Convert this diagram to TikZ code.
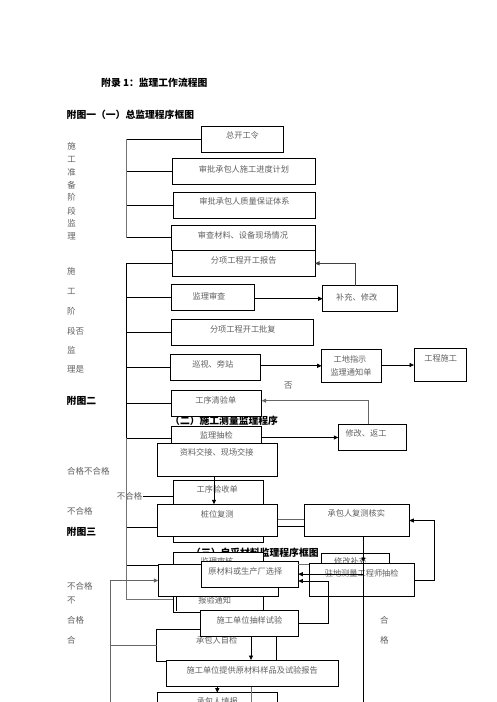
\documentclass[tikz,border=0pt]{standalone}
\usepackage{fontspec}
\setmainfont{Noto Sans CJK SC}
\usetikzlibrary{arrows.meta}
\newcommand{\bxnode}[5]{\node[bx,minimum width={(#4-#2)*1pt},minimum height={(#5-#3)*1pt}] (#1) at ({(#2+#4)/2},{(#3+#5)/2}) {};}
\tikzset{
 bx/.style={draw=black, line width=0.9pt, fill=white, inner sep=0pt, outer sep=0pt},
 bt/.style={inner sep=0pt, text=black!62, font=\fontsize{8.2}{9}\selectfont},
 lbl/.style={inner sep=0pt, anchor=west, text=black!62, font=\fontsize{8.5}{9}\selectfont},
 vlb/.style={inner sep=0pt, text=black!62, font=\fontsize{8.5}{9}\selectfont},
 hd/.style={inner sep=0pt, anchor=west, text=black, font=\fontsize{9.8}{11}\selectfont\bfseries},
 ln/.style={line width=0.8pt, black},
 gl/.style={line width=1.3pt, black!55},
 arr/.style={line width=0.8pt, black, -{Triangle[length=4.5pt,width=4pt]}},
}
\begin{document}
\begin{tikzpicture}[x=1pt,y=-1pt]
\useasboundingbox (0,0) rectangle (496,702);
\fill[white] (0,0) rectangle (496,702);
% headings
\node[hd] (h0) at (101,83) {附录 1：监理工作流程图};
\node[hd] (h1) at (66.5,115) {附图一（一）总监理程序框图};
\node[hd] (h2) at (66.5,401) {附图二};
\node[hd] (h3) at (170,420.7) {（二）施工测量监理程序};
\node[hd] (h4) at (66.5,531.7) {附图三};
\node[hd] (h5) at (191,553) {（三）自采材料监理程序框图};
% left labels
\node[vlb] (v1) at (71.7,146) {施};
\node[vlb] (v2) at (71.7,159.3) {工};
\node[vlb] (v3) at (71.7,172) {准};
\node[vlb] (v4) at (71.7,185) {备};
\node[vlb] (v5) at (71.7,197.7) {阶};
\node[vlb] (v6) at (71.7,211) {段};
\node[vlb] (v7) at (71.7,223.3) {监};
\node[vlb] (v8) at (71.7,236.7) {理};
\node[lbl] (w1) at (67,271.7) {施};
\node[lbl] (w2) at (67,291.7) {工};
\node[lbl] (w3) at (67,311) {阶};
\node[lbl] (w4) at (67,331) {段否};
\node[lbl] (w5) at (67,350) {监};
\node[lbl] (w6) at (67,369.3) {理是};
\node[lbl] (l1) at (67,471) {合格不合格};
\node[lbl] (bhg2) at (116.7,496.5) {不合格};
\node[lbl] (l3) at (67,511.7) {不合格};
\node[lbl] (l4) at (67,586) {不合格};
\node[lbl] (l5) at (67,601) {不};
\node[lbl] (l6) at (67,620) {合格};
\node[lbl] (l7) at (67,640) {合};
\node[vlb] (fou) at (288.3,385.7) {否};
\node[vlb] (he1) at (384.3,620) {合};
\node[vlb] (ge1) at (384.3,640) {格};
% boxes
\bxnode{zkgl}{201.7}{126}{283.3}{152.3}
\node[bt] (t1) at (242.5,135) {总开工令};
\bxnode{spjd}{172.3}{158.3}{315.7}{184.3}
\node[bt] (t2) at (244,169) {审批承包人施工进度计划};
\bxnode{spzl}{173.3}{192}{315.7}{218.3}
\node[bt] (t3) at (244.5,201.7) {审批承包人质量保证体系};
\bxnode{scl}{171}{225}{315}{250.7}
\node[bt] (t4) at (243,235) {审查材料、设备现场情况};
\bxnode{fxbg}{172.3}{250.7}{315}{276}
\node[bt] (t5) at (243.7,260.7) {分项工程开工报告};
\bxnode{jlsc}{171}{284}{254.3}{310}
\node[bt] (t6) at (209,296) {监理审查};
\bxnode{bcxg}{322.7}{285.7}{397.3}{311.7}
\node[bt] (t7) at (356.7,297.7) {补充、修改};
\bxnode{fxpf}{171}{319.3}{313.3}{345}
\node[bt] (t8) at (242.8,329) {分项工程开工批复};
\bxnode{xsbz}{170.3}{354.3}{260.3}{380.3}
\node[bt] (t9) at (212.8,364.3) {巡视、旁站};
\bxnode{gdzs}{321.7}{349.3}{381.7}{382.3}
\node[bt] (t10) at (350,359.3) {工地指示};
\node[bt] (t11) at (351,372) {监理通知单};
\bxnode{gcsg}{414}{348.3}{466.7}{381.7}
\node[bt] (t12) at (440.7,358.3) {工程施工};
\bxnode{gxqy}{171}{390.7}{261.7}{416}
\node[bt] (t13) at (215.8,400) {工序清验单};
\bxnode{jlcj}{171}{426.7}{261.7}{455}
\node[bt] (t14) at (216.3,435) {监理抽检};
\bxnode{xgfg}{338.3}{424.3}{406.7}{450.7}
\node[bt] (t15) at (366,433.3) {修改、返工};
\bxnode{zljj}{157.3}{443.3}{277.7}{476.7}
\node[bt] (t16) at (216.7,452.3) {资料交接、现场交接};
\bxnode{gxys}{173.3}{480}{263.3}{542.7}
\node[bt] (t17) at (217.2,489.3) {工序验收单};
\bxnode{zwfc}{157.3}{504.3}{277.7}{536.7}
\node[bt] (t18) at (217.2,514) {桩位复测};
\bxnode{cbfc}{304.3}{504.3}{409.3}{536.7}
\node[bt] (t19) at (356.3,513.3) {承包人复测核实};
\bxnode{jlsh}{173.3}{552.7}{263.3}{612.7}
\node[bt] (t20) at (217,561) {监理审核};
\node[bt] (t21) at (214.7,600) {报验通知};
\bxnode{boxB}{158.3}{564.3}{278.3}{596.7}
\bxnode{yclxz}{201.7}{561}{298.3}{587.3}
\node[bt] (t22) at (245.3,571) {原材料或生产厂选择};
\bxnode{xgbc}{321.7}{553.3}{389.3}{575}
\node[bt] (t23) at (350.5,561) {修改补充};
\bxnode{zdcl}{309.3}{563.3}{414.3}{596.7}
\node[bt] (t24) at (361.7,573.3) {驻地测量工程师抽检};
\bxnode{cbzj}{156.7}{629.3}{276.7}{661}
\node[bt] (t25) at (216.7,640) {承包人自检};
\bxnode{sgcy}{200.7}{610.7}{298.3}{636.7}
\node[bt] (t26) at (249.5,620) {施工单位抽样试验};
\bxnode{sgtg}{166}{660}{338.3}{686.7}
\node[bt] (t27) at (252.2,670) {施工单位提供原材料样品及试验报告};
\bxnode{cbtb}{157.3}{692.7}{277.7}{730}
\node[bt] (t28) at (217.3,701.5) {承包人填报};
% bracket 1
\coordinate (v1a) at (126.7,139);
\draw[gl] (zkgl.west -| v1a) -- (scl.west -| v1a);
\draw[ln] (zkgl.west) -- (zkgl.west -| v1a);
\draw[ln] (spjd.west) -- (spjd.west -| v1a);
\draw[ln] (spzl.west) -- (spzl.west -| v1a);
\draw[ln] (scl.west) -- (scl.west -| v1a);
% bracket 2
\coordinate (b2a) at (126.7,262.7);
\coordinate (b2m) at (126.7,438.3);
\coordinate (b2z) at (126.7,527.3);
\coordinate (b2B) at (126.7,565);
\coordinate (b2b) at (126.7,599.3);
\draw[ln] (fxbg.west -| b2a) -- (b2m);
\draw[gl] (b2m) -- (b2b) -- (b2b -| jlsh.west);
\draw[ln] (fxbg.west) -- (fxbg.west -| b2a);
\draw[ln] (jlsc.west) -- (jlsc.west -| b2a);
\draw[ln] (fxpf.west) -- (fxpf.west -| b2a);
\draw[ln] (xsbz.west) -- (xsbz.west -| b2a);
\draw[ln] (gxqy.west) -- (gxqy.west -| b2a);
\draw[ln] (b2m) -- (b2m -| jlcj.west);
\draw[ln] (b2z) -- (b2z -| zwfc.west);
\draw[ln] (b2B) -- (b2B -| boxB.west);
% connectors
\draw[arr] (jlsc.east |- bcxg.west) -- (bcxg.west);
\draw[arr, black!75] ([xshift=-5pt]bcxg.north) |- (fxbg.east);
\draw[arr] (xsbz.east |- gdzs.west) -- (gdzs.west);
\draw[arr] (gdzs.east |- gcsg.west) -- (gcsg.west);
\draw[arr, black!60, line width=1.2pt] ([xshift=-4.2pt]xgfg.north) |- ([yshift=2.65pt]gxqy.east);
\draw[arr] (jlcj.east |- xgfg.west) -- (xgfg.west);
\draw[arr] ([xshift=-3.5pt]zljj.south) -- ([xshift=-3.5pt]zwfc.north);
\draw[ln] (bhg2.east) -- (bhg2.east -| gxys.west);
\draw[ln, black!60] ([yshift=1.2pt]zwfc.east) -- ([yshift=1.2pt]cbfc.west);
\draw[ln] ([yshift=-6.2pt]zwfc.east) -- ([yshift=-6.2pt]cbfc.west);
\coordinate (cv) at (363.3,562);
\coordinate (cvb) at (363.3,710);
\draw[arr] ([xshift=6.5pt]cbfc.south) -- (cv);
\draw[ln] (cv) -- (cvb);
\draw[arr] (cv |- yclxz.east) -- (yclxz.east);
\coordinate (c11) at (434.3,580);
\draw[arr] (zdcl.east) -- (c11) |- (cbfc.east);
\coordinate (c13) at (328.3,623.7);
\draw[arr] (sgcy.east) -- (c13) |- ([yshift=-6.85pt]yclxz.east);
\draw[ln, black!55] ([yshift=-3.3pt]yclxz.north east) -- ([yshift=-3.3pt]yclxz.north east -| zdcl.west);
\coordinate (lv) at (110.5,710);
\draw[arr, black!60, line width=1.1pt] (lv) |- (boxB.west);
\draw[ln, black!60, line width=1.1pt] (lv |- cbzj.west) -- (cbzj.west);
\draw[ln] ([xshift=-41.6pt]boxB.south) -- ([xshift=-41.6pt]boxB.south |- sgcy.north);
\draw[arr] ([xshift=1.5pt]sgcy.south) -- ([xshift=1.5pt]sgcy.south |- sgtg.north);
\draw[arr] ([xshift=-34.85pt]sgtg.south) -- ([xshift=-34.85pt]sgtg.south |- cbtb.north);
\coordinate (gb) at (251.7,710);
\draw[gl] (sgtg.south -| gb) -- (gb);
\end{tikzpicture}
\end{document}
